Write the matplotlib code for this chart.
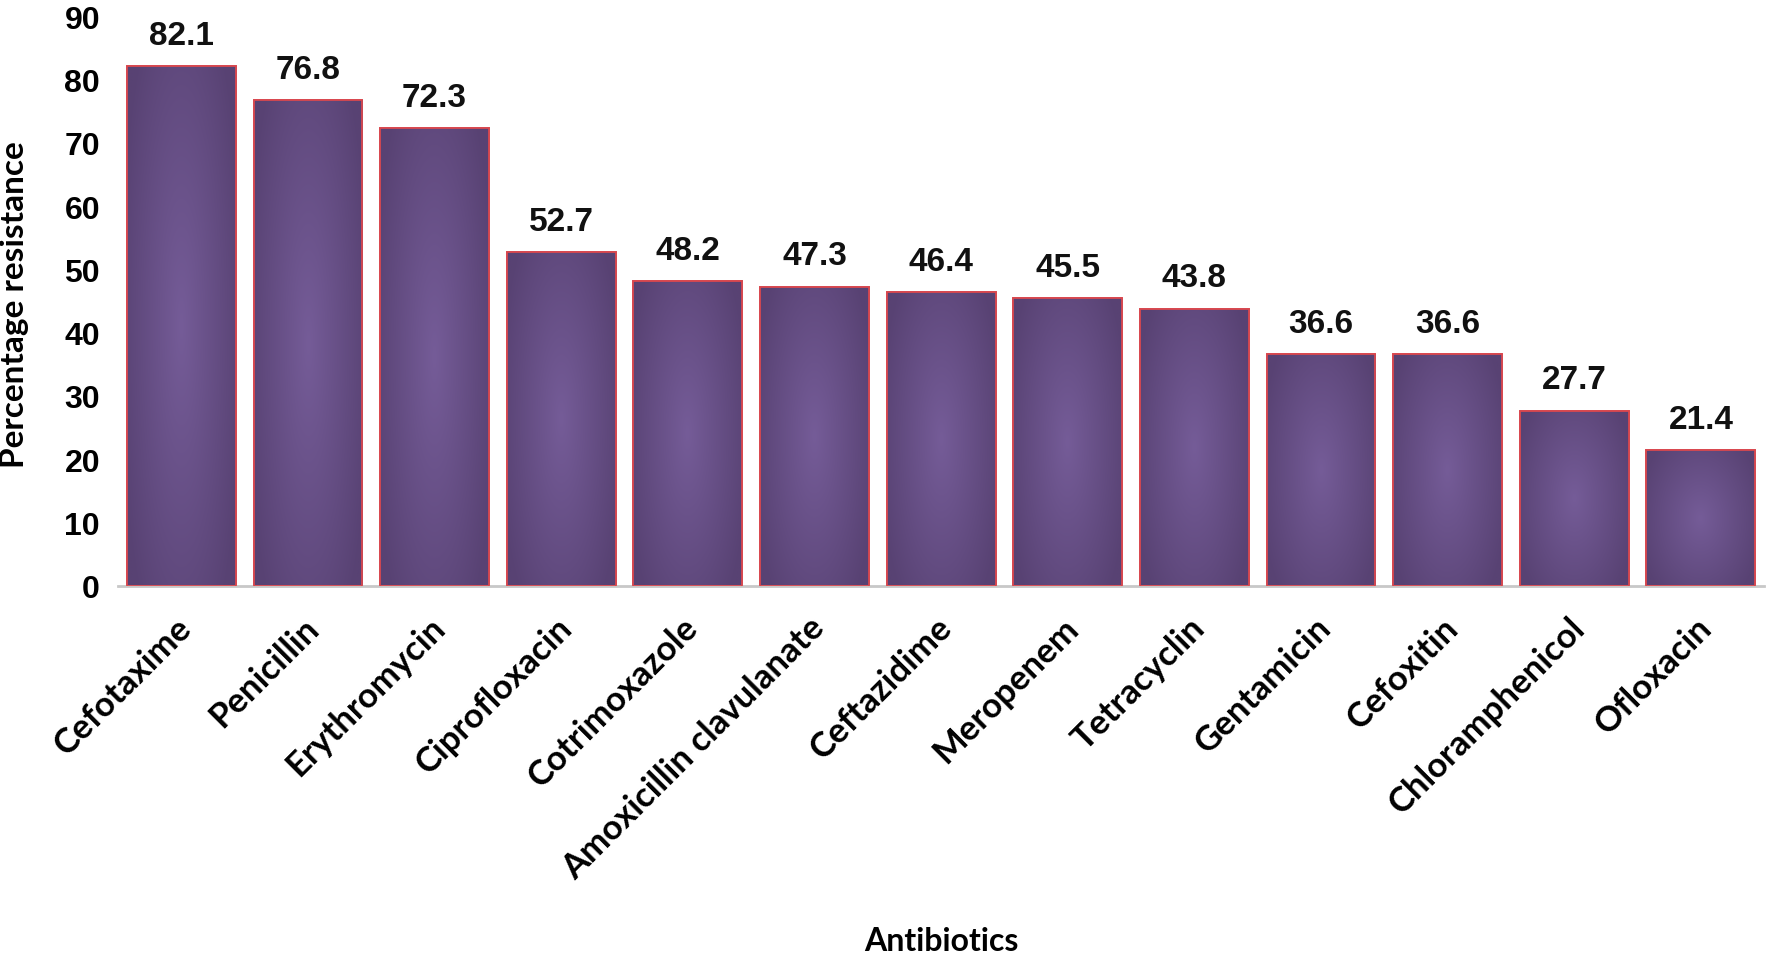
import matplotlib.pyplot as plt
import matplotlib.transforms as mtransforms
import numpy as np

antibiotics = ['Cefotaxime', 'Penicillin', 'Erythromycin', 'Ciprofloxacin',
               'Cotrimoxazole', 'Amoxicillin clavulanate', 'Ceftazidime',
               'Meropenem', 'Tetracyclin', 'Gentamicin', 'Cefoxitin',
               'Chloramphenicol', 'Ofloxacin']
resistance = [82.1, 76.8, 72.3, 52.7, 48.2, 47.3, 46.4, 45.5, 43.8,
              36.6, 36.6, 27.7, 21.4]

plt.rcParams['font.family'] = ['Liberation Sans', 'DejaVu Sans']
label_font = ['Lato', 'DejaVu Sans']

fig = plt.figure(figsize=(17.7, 9.62), dpi=100)
ax = fig.add_axes([0.0667, 0.39, 0.93, 0.592])

x = np.arange(len(antibiotics))
bars = ax.bar(x, resistance, width=0.86, color='#654c85',
              edgecolor='#d9484f', linewidth=1.3, zorder=2)

# soft gradient inside each bar: lighter in the middle, darker at the edges
gx = np.linspace(-1, 1, 60)
gy = np.linspace(-1, 1, 120)
GX, GY = np.meshgrid(gx, gy)
shade = 1 - np.clip(np.sqrt((GX * 0.85) ** 2 + (GY * 0.7) ** 2), 0, 1)
dark = np.array([0x58, 0x42, 0x73]) / 255
light = np.array([0x75, 0x5c, 0x98]) / 255
img = dark + (light - dark) * shade[..., None]
for b in bars:
    x0, w, h = b.get_x(), b.get_width(), b.get_height()
    im = ax.imshow(img, extent=[x0, x0 + w, 0, h], aspect='auto',
                   origin='lower', zorder=2.5, interpolation='bilinear')
    im.set_clip_path(b)
    ax.bar(x0 + w / 2, h, width=w, fill=False, edgecolor='#d9484f',
           linewidth=1.3, zorder=3)

for xi, v in zip(x, resistance):
    ax.text(xi, v + 2.4, f'{v}', ha='center', va='bottom',
            fontsize=24, fontweight='bold', color='#111111')

ax.set_xlim(-0.5, len(antibiotics) - 0.5)
ax.set_ylim(0, 90)
ax.set_yticks(range(0, 91, 10))
ax.tick_params(axis='y', length=0, labelsize=23, pad=13)
ax.tick_params(axis='x', length=0)
for lab in ax.get_yticklabels():
    lab.set_fontweight('bold')

ax.set_xticks(x)
ax.set_xticklabels(antibiotics, rotation=45, ha='right',
                   rotation_mode='anchor', fontsize=25, fontweight='bold',
                   family=label_font)
offset = mtransforms.ScaledTranslation(-0.06, -0.2, fig.dpi_scale_trans)
for lab in ax.get_xticklabels():
    lab.set_transform(lab.get_transform() + offset)

for s in ['top', 'right', 'left']:
    ax.spines[s].set_visible(False)
ax.spines['bottom'].set_color('#c8c8c8')
ax.spines['bottom'].set_linewidth(2)

fig.text(0.008, 1 - 305 / 962, 'Percentage resistance', rotation=90,
         ha='center', va='center', fontsize=24, fontweight='bold',
         family=label_font)
fig.text(0.532, 0.006, 'Antibiotics', fontsize=23, fontweight='bold',
         ha='center', va='bottom', family=label_font)

fig.savefig('out.png', dpi=100)
